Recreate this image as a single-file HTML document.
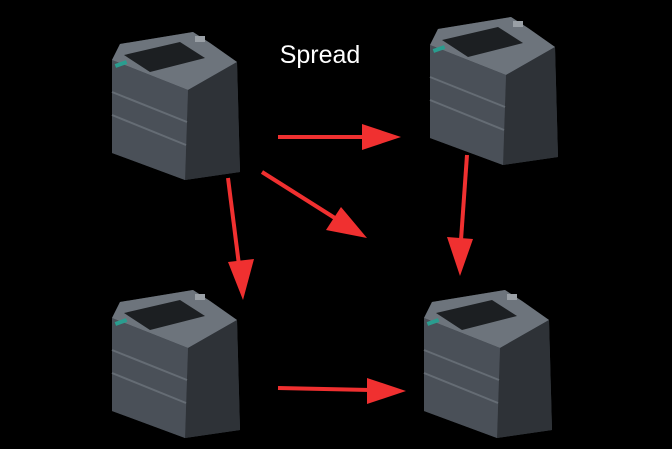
<!DOCTYPE html>
<html><head><style>html,body{margin:0;background:#000;}svg{display:block}</style></head>
<body>
<svg width="672" height="449" viewBox="0 0 672 449" xmlns="http://www.w3.org/2000/svg">
<defs>
<g id="plc">
  <polygon points="112,60 120,44 193,32 210,43 237,62 240,172 185,180 112,153" fill="#3b4047"/>
  <polygon points="112,60 120,44 193,32 210,43 237,62 188,90" fill="#6d747c"/>
  <polygon points="124,55 180,42 205,58 150,72" fill="#1c1f22"/>
  <polygon points="188,90 237,62 240,172 185,180" fill="#2e3237"/>
  <polygon points="112,60 188,90 185,180 112,153" fill="#4a5058"/>
  <line x1="112" y1="92" x2="187" y2="122" stroke="#656c74" stroke-width="2"/>
  <line x1="112" y1="115" x2="186" y2="145" stroke="#656c74" stroke-width="2"/>
  <rect x="115" y="62" width="12" height="4" fill="#2a9d8f" transform="rotate(-20 121 64)"/>
  <rect x="195" y="36" width="10" height="6" fill="#9aa0a6"/>
</g>
</defs>
<use href="#plc"/>
<use href="#plc" transform="translate(318,-15)"/>
<use href="#plc" transform="translate(0,258)"/>
<use href="#plc" transform="translate(312,258)"/>
<text x="320" y="63" fill="#fff" font-family="Liberation Sans, sans-serif" font-size="25" text-anchor="middle">Spread</text>
<g fill="#f03030" stroke="#f03030">
  <line x1="278" y1="137" x2="365" y2="137" stroke-width="4"/>
  <polygon points="401,137 362,124 362,150" stroke="none"/>
  <line x1="262" y1="172" x2="338" y2="220" stroke-width="4"/>
  <polygon points="367,238 326,230 341,207" stroke="none"/>
  <line x1="228" y1="178" x2="239" y2="265" stroke-width="4"/>
  <polygon points="243,300 228,262 254,259" stroke="none"/>
  <line x1="467" y1="155" x2="461" y2="240" stroke-width="4"/>
  <polygon points="460,276 447,237 473,239" stroke="none"/>
  <line x1="278" y1="388" x2="370" y2="390" stroke-width="4"/>
  <polygon points="406,391 367,378 367,404" stroke="none"/>
</g>
</svg>
</body></html>
